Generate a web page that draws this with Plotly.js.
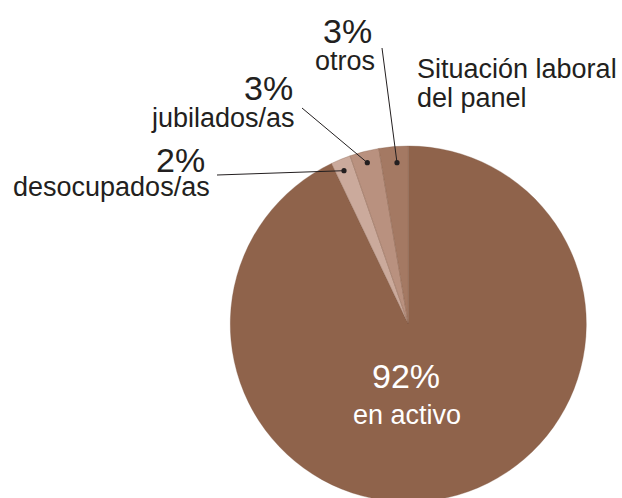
<!DOCTYPE html>
<html>
<head>
<meta charset="utf-8">
<script src="https://cdn.plot.ly/plotly-3.0.1.min.js"></script>
<style>
html, body { margin: 0; padding: 0; overflow: hidden; background: #fff; }
#chart { width: 622px; height: 520px; }
</style>
</head>
<body>
<div id="chart"></div>
<script>
// Data
var categories = ['en activo', 'desocupados/as', 'jubilados/as', 'otros'];
var values = [92.9, 1.8, 2.65, 2.65];
var percentLabels = ['92%', '2%', '3%', '3%'];
var colors = ['#8f634b', '#cbaa9c', '#b9917f', '#a47963'];
var titleLines = ['Situación laboral', 'del panel'];

var W = 622, H = 520;
function X(px) { return px / W; }
function Y(py) { return 1 - py / H; }

var ink = '#231f20';
var fam = 'Liberation Sans, Arimo, Helvetica, Arial, sans-serif';
var lblSize = 27, pctSize = 34;

var cx = 408.3, cy = 324, r = 178;

var trace = {
  type: 'pie',
  labels: categories,
  values: values,
  sort: false,
  direction: 'clockwise',
  rotation: 0,
  textinfo: 'none',
  hoverinfo: 'none',
  showlegend: false,
  marker: { colors: colors, line: { color: 'rgba(125,85,65,0.55)', width: 0.6 } },
  domain: { x: [X(cx - r), X(cx + r)], y: [Y(cy + r), Y(cy - r)] }
};

function ann(text, px, py, size, xanchor, color) {
  return {
    text: text, x: X(px), y: Y(py), xref: 'paper', yref: 'paper',
    xanchor: xanchor, yanchor: 'middle', showarrow: false, borderpad: 0,
    font: { family: fam, size: size, color: color || ink }
  };
}

var annotations = [
  // inside label (en activo)
  ann(percentLabels[0], 406, 388 - 0.35 * pctSize, pctSize, 'center', '#ffffff'),
  ann(categories[0], 407, 424 - 0.35 * lblSize, lblSize, 'center', '#ffffff'),
  // otros
  ann(percentLabels[3], 373, 43 - 0.35 * pctSize, pctSize, 'right'),
  ann(categories[3], 376, 70 - 0.35 * lblSize, lblSize, 'right'),
  // jubilados
  ann(percentLabels[2], 294, 100 - 0.35 * pctSize, pctSize, 'right'),
  ann(categories[2], 296, 127 - 0.35 * lblSize, lblSize, 'right'),
  // desocupados
  ann(percentLabels[1], 206, 172 - 0.35 * pctSize, pctSize, 'right'),
  ann(categories[1], 211, 196 - 0.35 * lblSize, lblSize, 'right'),
  // title
  ann(titleLines[0], 416, 78 - 0.35 * lblSize, lblSize, 'left'),
  ann(titleLines[1], 416, 107 - 0.35 * lblSize, lblSize, 'left')
];

function line(x0, y0, x1, y1) {
  return { type: 'line', xref: 'paper', yref: 'paper', x0: X(x0), y0: Y(y0), x1: X(x1), y1: Y(y1),
           line: { color: ink, width: 1 } };
}
function dot(px, py) {
  var rr = 2.6;
  return { type: 'circle', xref: 'paper', yref: 'paper', x0: X(px - rr), x1: X(px + rr), y0: Y(py + rr), y1: Y(py - rr),
           fillcolor: ink, line: { width: 0 } };
}

var shapes = [
  line(382, 48, 397, 162.7), dot(397, 162.7),
  line(302, 108, 367.3, 162.7), dot(367.3, 162.7),
  line(217, 175, 344, 170.7), dot(344, 170.7)
];

var layout = {
  width: W, height: H,
  margin: { l: 0, r: 0, t: 0, b: 0 },
  paper_bgcolor: '#ffffff',
  plot_bgcolor: '#ffffff',
  annotations: annotations,
  shapes: shapes
};

Plotly.newPlot('chart', [trace], layout, { staticPlot: true, displayModeBar: false });
</script>
</body>
</html>
